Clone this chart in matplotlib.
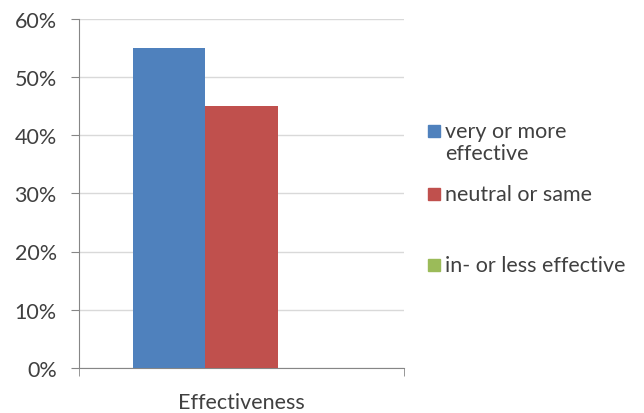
import matplotlib.pyplot as plt
from matplotlib.patches import Rectangle
from matplotlib.ticker import FuncFormatter

# survey answers, share of respondents
category = "Effectiveness"
answers = ["very or more\neffective", "neutral or same", "in- or less effective"]
shares = [0.55, 0.45, 0.0]
colors = ["#4F81BD", "#C0504D", "#9BBB59"]
yticks = [0.0, 0.1, 0.2, 0.3, 0.4, 0.5, 0.6]

plt.rcParams["font.family"] = ["Lato", "DejaVu Sans"]
text_color = "#404040"
fs = 15.5

fig = plt.figure(figsize=(6.44, 4.14), dpi=100)
ax = fig.add_axes([79 / 644, 45 / 414, 325 / 644, 349.5 / 414])

# excel style clustered bars, gap width 150%
bar_w = 1 / (len(shares) + 1.5)
for i, (val, col) in enumerate(zip(shares, colors)):
    ax.bar((i - 1) * bar_w, val, width=bar_w, color=col, zorder=3)

ax.set_xlim(-0.5, 0.5)
ax.set_ylim(0, 0.6)
ax.set_yticks(yticks)
ax.yaxis.set_major_formatter(FuncFormatter(lambda v, p: "%d%%" % round(v * 100)))
ax.grid(axis="y", color="#D9D9D9", linewidth=1, zorder=0)

ax.set_xticks([0])
ax.set_xticklabels([category])
ax.set_xticks([-0.5, 0.5], minor=True)
ax.tick_params(axis="x", which="major", length=0, pad=17, labelsize=fs, labelcolor=text_color)
ax.tick_params(axis="x", which="minor", length=6, color="#868686")
ax.tick_params(axis="y", length=6, pad=10, color="#868686", labelsize=fs, labelcolor=text_color)

for s in ["top", "right"]:
    ax.spines[s].set_visible(False)
for s in ["left", "bottom"]:
    ax.spines[s].set_color("#868686")

# legend drawn by hand so the swatch sits on the first text line
swatch_y = [131.5, 195, 266]
line_h = 22
for lab, col, y in zip(answers, colors, swatch_y):
    fig.patches.append(Rectangle((428 / 644, 1 - (y + 6) / 414), 12 / 644, 12 / 414,
                                 transform=fig.transFigure, color=col))
    for k, line in enumerate(lab.split("\n")):
        fig.text(445 / 644, 1 - (y + 6.5 + k * line_h) / 414, line, fontsize=fs,
                 color=text_color, va="baseline", ha="left")

fig.savefig("out.png", dpi=100)
